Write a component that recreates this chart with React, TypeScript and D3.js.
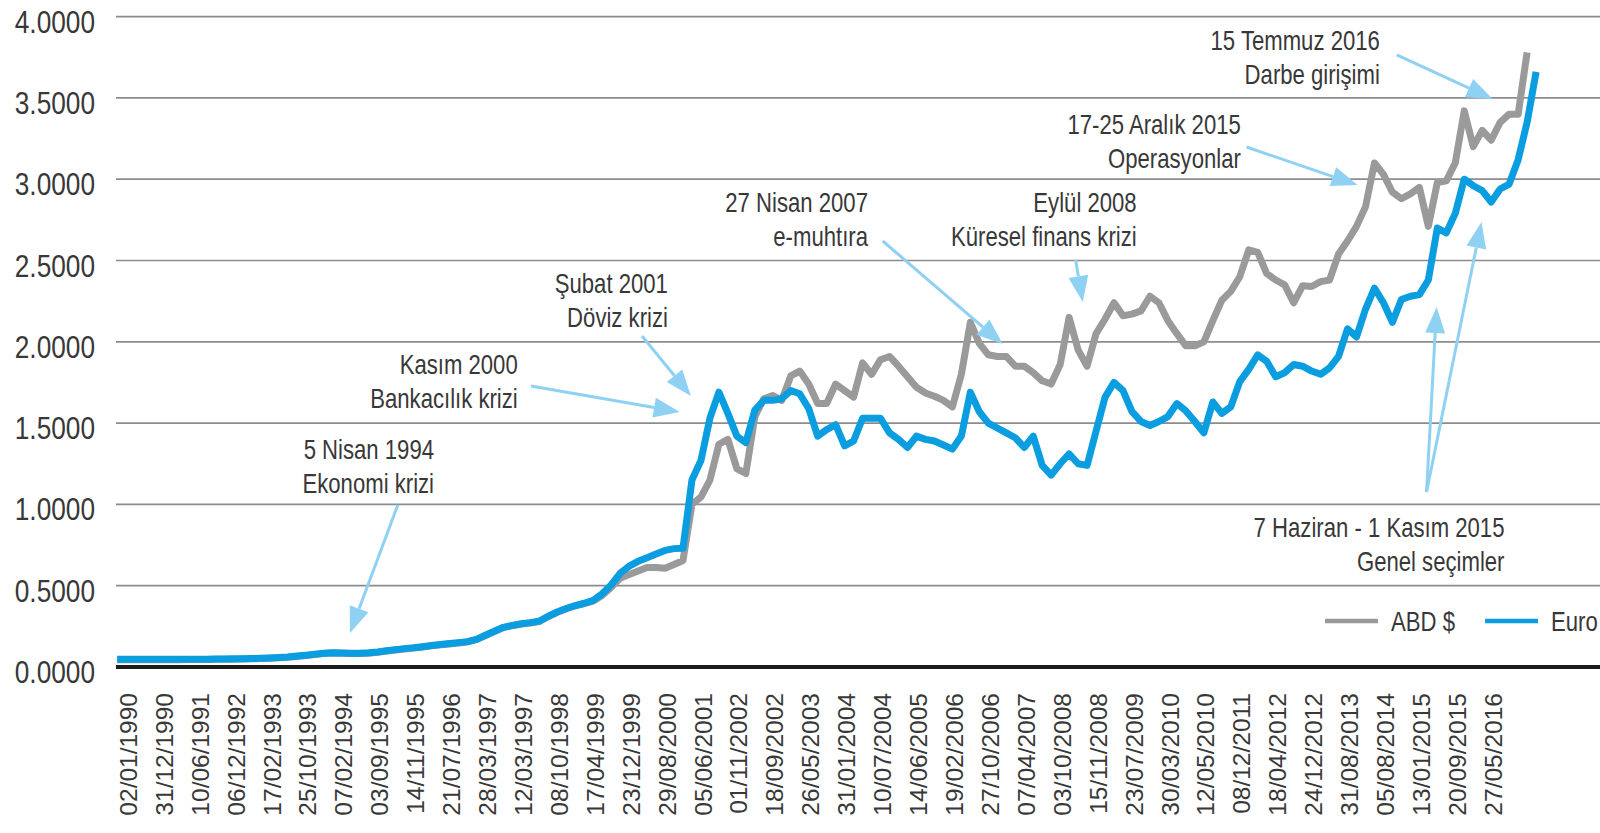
import React, { useRef, useEffect } from 'react';
import * as d3 from 'd3';

// Category labels along the bottom (every 4th sample carries a label)
const xLabels = [
  '02/01/1990', '31/12/1990', '10/06/1991', '06/12/1992', '17/02/1993', '25/10/1993',
  '07/02/1994', '03/09/1995', '14/11/1995', '21/07/1996', '28/03/1997', '12/03/1997',
  '08/10/1998', '17/04/1999', '23/12/1999', '29/08/2000', '05/06/2001', '01/11/2002',
  '18/09/2002', '26/05/2003', '31/01/2004', '10/07/2004', '14/06/2005', '19/02/2006',
  '27/10/2006', '07/04/2007', '03/10/2008', '15/11/2008', '23/07/2009', '30/03/2010',
  '12/05/2010', '08/12/2011', '18/04/2012', '24/12/2012', '31/08/2013', '05/08/2014',
  '13/01/2015', '20/09/2015', '27/05/2016',
];

const yTicks = [0, 0.5, 1, 1.5, 2, 2.5, 3, 3.5, 4];

// samples sit a quarter label-step apart, the first one a little left of the first label
const sampleStart = -0.3;
const sampleStep = 0.25;

const usdValues = [
  0.045, 0.045, 0.045, 0.045, 0.045, 0.045, 0.045, 0.045, 0.046, 0.046,
  0.046, 0.047, 0.047, 0.048, 0.049, 0.050, 0.052, 0.054, 0.057, 0.060,
  0.065, 0.070, 0.076, 0.083, 0.086, 0.084, 0.083, 0.083, 0.085, 0.090,
  0.098, 0.105, 0.111, 0.116, 0.123, 0.130, 0.136, 0.142, 0.148, 0.154,
  0.168, 0.193, 0.218, 0.242, 0.254, 0.264, 0.271, 0.280, 0.310, 0.336,
  0.358, 0.376, 0.390, 0.405, 0.440, 0.490, 0.545, 0.568, 0.590, 0.612,
  0.612, 0.607, 0.630, 0.655, 1.000, 1.045, 1.150, 1.370, 1.400, 1.220,
  1.190, 1.540, 1.650, 1.670, 1.640, 1.790, 1.820, 1.740, 1.620, 1.620,
  1.740, 1.700, 1.660, 1.870, 1.800, 1.890, 1.910, 1.850, 1.785, 1.720,
  1.685, 1.665, 1.640, 1.600, 1.800, 2.120, 1.990, 1.920, 1.910, 1.910,
  1.850, 1.850, 1.810, 1.760, 1.740, 1.860, 2.150, 1.950, 1.850, 2.050,
  2.140, 2.240, 2.160, 2.170, 2.190, 2.280, 2.240, 2.130, 2.050, 1.975,
  1.975, 2.000, 2.130, 2.255, 2.310, 2.400, 2.565, 2.550, 2.420, 2.380,
  2.350, 2.240, 2.345, 2.340, 2.370, 2.380, 2.540, 2.620, 2.710, 2.830,
  3.100, 3.030, 2.920, 2.880, 2.910, 2.950, 2.710, 2.980, 2.990, 3.100,
  3.420, 3.200, 3.300, 3.240, 3.350, 3.400, 3.400, 3.780,
];

const euroValues = [
  0.047, 0.047, 0.047, 0.047, 0.047, 0.047, 0.047, 0.047, 0.048, 0.048,
  0.048, 0.049, 0.049, 0.050, 0.051, 0.052, 0.054, 0.056, 0.059, 0.062,
  0.067, 0.072, 0.078, 0.085, 0.088, 0.086, 0.085, 0.085, 0.087, 0.092,
  0.100, 0.107, 0.113, 0.118, 0.125, 0.132, 0.138, 0.144, 0.150, 0.156,
  0.170, 0.195, 0.220, 0.244, 0.256, 0.266, 0.273, 0.282, 0.312, 0.338,
  0.360, 0.378, 0.392, 0.410, 0.450, 0.505, 0.576, 0.620, 0.650, 0.672,
  0.695, 0.717, 0.728, 0.730, 1.150, 1.270, 1.530, 1.690, 1.560, 1.420,
  1.380, 1.580, 1.640, 1.640, 1.650, 1.700, 1.680, 1.590, 1.420, 1.460,
  1.490, 1.360, 1.390, 1.530, 1.530, 1.530, 1.440, 1.400, 1.350, 1.420,
  1.400, 1.390, 1.365, 1.340, 1.420, 1.690, 1.570, 1.500, 1.470, 1.440,
  1.410, 1.350, 1.420, 1.240, 1.180, 1.250, 1.310, 1.250, 1.240, 1.450,
  1.660, 1.750, 1.700, 1.570, 1.510, 1.485, 1.510, 1.540, 1.620, 1.575,
  1.510, 1.440, 1.630, 1.560, 1.600, 1.755, 1.830, 1.920, 1.880, 1.785,
  1.810, 1.860, 1.850, 1.820, 1.800, 1.840, 1.910, 2.080, 2.030, 2.200,
  2.330, 2.240, 2.120, 2.260, 2.280, 2.290, 2.380, 2.700, 2.670, 2.790,
  3.000, 2.960, 2.930, 2.860, 2.940, 2.970, 3.120, 3.350, 3.660,
];

// annotations: two text lines, right edge + first baseline in axis units
const noteTitles = [
  '5 Nisan 1994', 'Kasım 2000', 'Şubat 2001', '27 Nisan 2007',
  'Eylül 2008', '17-25 Aralık 2015', '15 Temmuz 2016', '7 Haziran - 1 Kasım 2015',
];
const noteSubtitles = [
  'Ekonomi krizi', 'Bankacılık krizi', 'Döviz krizi', 'e-muhtıra',
  'Küresel finans krizi', 'Operasyonlar', 'Darbe girişimi', 'Genel seçimler',
];
const noteAnchors: [number, number][] = [
  [8.52, 1.279], [10.85, 1.802], [15.03, 2.30], [20.60, 2.798],
  [28.08, 2.798], [30.98, 3.275], [34.85, 3.792], [38.32, 0.80],
];

// arrows: tail and head in axis units
const arrowFrom: [number, number][] = [
  [7.51, 0.996], [11.22, 1.728], [14.31, 2.036], [21.01, 2.62],
  [26.38, 2.503], [31.14, 3.198], [35.32, 3.764], [36.15, 1.076], [36.15, 1.076],
];
const arrowTo: [number, number][] = [
  [6.18, 0.209], [15.36, 1.568], [15.67, 1.667], [24.35, 1.986],
  [26.58, 2.245], [34.23, 2.964], [37.99, 3.493], [36.43, 2.214], [37.68, 2.737],
];

const seriesNames = ['ABD $', 'Euro'];
const seriesColors = ['#9a9a9a', '#0a9de0'];

// no condensed face is installed, so regular Liberation Sans gets squeezed sideways
const FONT = "'Liberation Sans', Arial, sans-serif";
const SQUEEZE = 0.82;
const TEXT = '#383838';
const ARROW = '#8fd1f2';

const App = () => {
  const ref = useRef<SVGSVGElement>(null);

  useEffect(() => {
    const svg = d3.select(ref.current);
    svg.selectAll('*').remove();

    const width = 1600;
    const plotLeft = 116;

    const x = d3.scaleLinear().domain([0, xLabels.length - 1]).range([128, 1493]);
    const y = d3.scaleLinear().domain([0, 4]).range([667, 16.6]);

    // grid
    svg.append('g')
      .selectAll('line')
      .data(yTicks.filter(v => v > 0))
      .enter()
      .append('line')
      .attr('x1', plotLeft)
      .attr('x2', width)
      .attr('y1', d => y(d))
      .attr('y2', d => y(d))
      .attr('stroke', '#8c8c8c')
      .attr('stroke-width', 1.7);

    // y labels
    svg.append('g')
      .selectAll('text')
      .data(yTicks)
      .enter()
      .append('text')
      .attr('transform', d => `translate(95, ${y(d) + 16}) scale(${SQUEEZE}, 1)`)
      .attr('text-anchor', 'end')
      .style('font-family', FONT)
      .style('font-size', '32px')
      .style('fill', TEXT)
      .text(d => d3.format('.4f')(d));

    // x labels
    svg.append('g')
      .selectAll('text')
      .data(xLabels)
      .enter()
      .append('text')
      .attr('transform', (d, i) => `translate(${x(i)}, 693) rotate(-90)`)
      .attr('text-anchor', 'end')
      .attr('dy', '0.36em')
      .style('font-family', FONT)
      .style('font-size', '24.5px')
      .style('fill', TEXT)
      .text(d => d);

    // series
    const line = d3.line<number>()
      .x((d, i) => x(sampleStart + i * sampleStep))
      .y(d => y(d));

    [usdValues, euroValues].forEach((vals, s) => {
      svg.append('path')
        .datum(vals)
        .attr('fill', 'none')
        .attr('stroke', seriesColors[s])
        .attr('stroke-width', 7)
        .attr('stroke-linejoin', 'round')
        .attr('stroke-linecap', 'butt')
        .attr('d', line);
    });

    // zero axis
    svg.append('line')
      .attr('x1', plotLeft)
      .attr('x2', width)
      .attr('y1', y(0))
      .attr('y2', y(0))
      .attr('stroke', '#1c1c1c')
      .attr('stroke-width', 4);

    // arrows
    const headLen = 26;
    const headHalf = 10;
    arrowFrom.forEach((from, i) => {
      const x1 = x(from[0]);
      const y1 = y(from[1]);
      const x2 = x(arrowTo[i][0]);
      const y2 = y(arrowTo[i][1]);
      const len = Math.hypot(x2 - x1, y2 - y1);
      const ux = (x2 - x1) / len;
      const uy = (y2 - y1) / len;
      const bx = x2 - ux * headLen;
      const by = y2 - uy * headLen;
      svg.append('line')
        .attr('x1', x1).attr('y1', y1)
        .attr('x2', bx).attr('y2', by)
        .attr('stroke', ARROW)
        .attr('stroke-width', 3);
      svg.append('path')
        .attr('d', `M${x2},${y2}L${bx - uy * headHalf},${by + ux * headHalf}L${bx + uy * headHalf},${by - ux * headHalf}Z`)
        .attr('fill', ARROW);
    });

    // annotation texts
    noteTitles.forEach((title, i) => {
      const t = svg.append('text')
        .attr('transform', `translate(${x(noteAnchors[i][0])}, ${y(noteAnchors[i][1])}) scale(${SQUEEZE}, 1)`)
        .attr('text-anchor', 'end')
        .style('font-family', FONT)
        .style('font-size', '27px')
        .style('fill', TEXT);
      t.append('tspan').attr('x', 0).attr('y', 0).text(title);
      t.append('tspan').attr('x', 0).attr('y', 34).text(noteSubtitles[i]);
    });

    // legend
    const legendX = [1325, 1485];
    seriesNames.forEach((name, i) => {
      svg.append('line')
        .attr('x1', legendX[i]).attr('x2', legendX[i] + 53)
        .attr('y1', 621).attr('y2', 621)
        .attr('stroke', seriesColors[i])
        .attr('stroke-width', 4.5);
      svg.append('text')
        .attr('transform', `translate(${legendX[i] + 66}, 631) scale(${SQUEEZE}, 1)`)
        .style('font-family', FONT)
        .style('font-size', '27px')
        .style('fill', TEXT)
        .text(name);
    });
  }, []);

  return (
    <svg
      ref={ref}
      width={1600}
      height={833}
      style={{ position: 'fixed', left: 0, top: 0, background: '#fff' }}
    />
  );
};

export default App;
